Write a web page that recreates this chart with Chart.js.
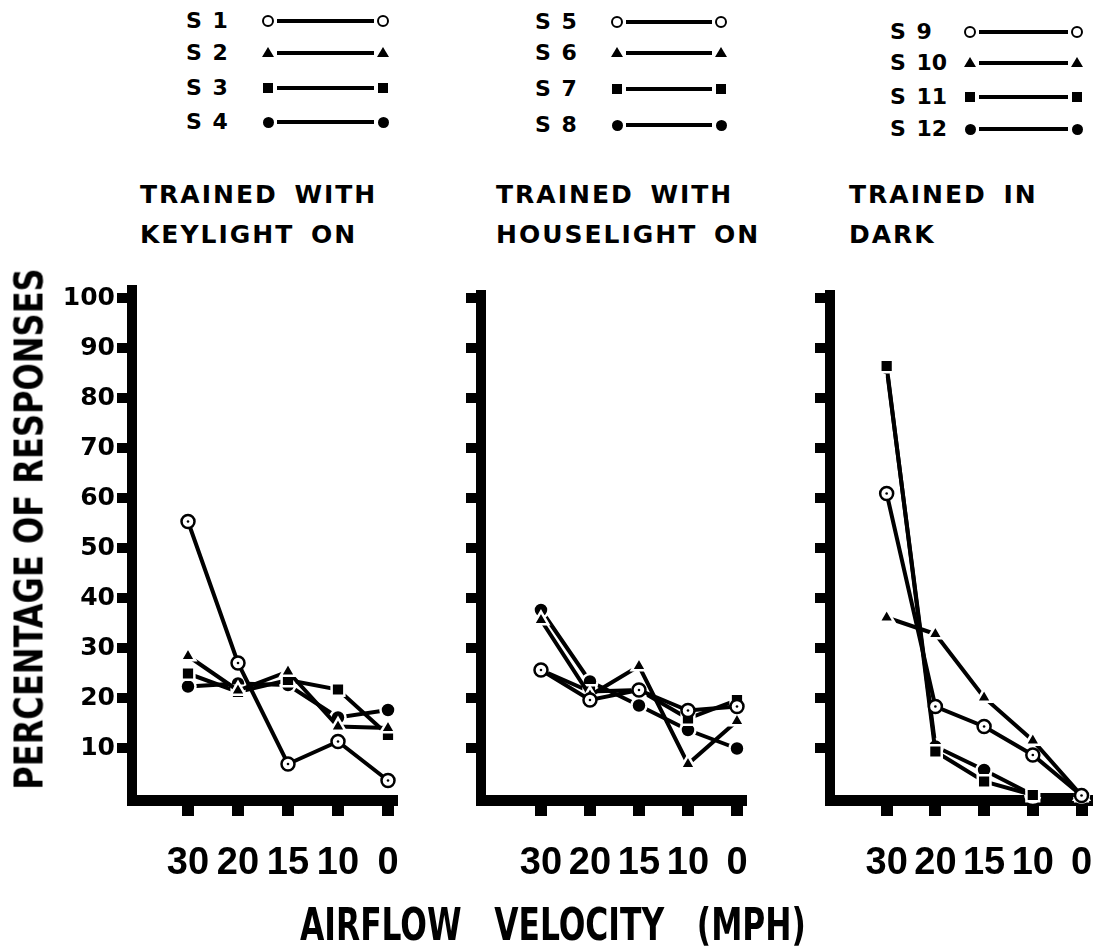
<!DOCTYPE html>
<html><head><meta charset="utf-8">
<script src="https://cdn.jsdelivr.net/npm/chart.js@4.4.0/dist/chart.umd.min.js"></script>
<style>
html,body{margin:0;padding:0;background:#fff;}
#root{position:relative;width:1098px;height:950px;overflow:hidden;background:#fff;color:#000;}
.cv{position:absolute;}
.t{position:absolute;white-space:pre;line-height:1;font-weight:bold;}
.title{font-family:'DejaVu Sans',sans-serif;font-size:25px;letter-spacing:2px;word-spacing:6px;transform:translateY(-50%);}
.leg{font-family:'DejaVu Sans',sans-serif;font-size:22px;word-spacing:3px;transform:translateY(-50%);}
.mk{position:absolute;box-sizing:border-box;}
.ln{position:absolute;height:4px;background:#000;}
</style></head><body><div id="root"></div>
<script>
// ---- data ----
const xLabels = ['30', '20', '15', '10', '0'];
const yTickValues = [10, 20, 30, 40, 50, 60, 70, 80, 90, 100];
const yTitle = 'PERCENTAGE OF RESPONSES';
const xTitle = 'AIRFLOW   VELOCITY   (MPH)';
const titleKeylight = ['TRAINED WITH', 'KEYLIGHT ON'];
const titleHouselight = ['TRAINED WITH', 'HOUSELIGHT ON'];
const titleDark = ['TRAINED IN', 'DARK'];
const namesKeylight = ['S 1', 'S 2', 'S 3', 'S 4'];
const namesHouselight = ['S 5', 'S 6', 'S 7', 'S 8'];
const namesDark = ['S 9', 'S 10', 'S 11', 'S 12'];
// keylight panel
const s1 = [55.3, 27.0, 6.8, 11.3, 3.5];
const s2 = [28.4, 21.5, 25.3, 14.3, 14.0];
const s3 = [24.9, 21.2, 23.6, 21.7, 12.6];
const s4 = [22.3, 22.9, 22.6, 16.1, 17.6];
// houselight panel
const s5 = [25.6, 19.6, 21.6, 17.5, 18.3];
const s6 = [35.6, 20.5, 26.4, 6.8, 15.4];
const s7 = [25.6, 21.3, 21.6, 15.9, 19.6];
const s8 = [37.6, 23.3, 18.5, 13.6, 9.9];
// dark panel
const s9 = [60.9, 18.3, 14.3, 8.6, 0.5];
const s10 = [36.1, 32.8, 20.1, 11.5, 0.5];
const s11 = [86.4, 9.3, 3.3, 0.6, 0.6];
const s12 = [86.0, 10.3, 5.6, 0.6, 0.6];

// ---- styles ----
const COND = "'DejaVu Sans Condensed','DejaVu Sans',sans-serif";
const LIB = "'Liberation Sans','Arial',sans-serif";
const WIDE = "'DejaVu Sans',sans-serif";
const markerStyles = [
  {pointStyle:'circle', pointRadius:6.5, pointBackgroundColor:'#fff', pointBorderColor:'#000', pointBorderWidth:2.5},
  {pointStyle:'triangle', pointRadius:8.5, pointBackgroundColor:'#000', pointBorderColor:'#fff', pointBorderWidth:2.5},
  {pointStyle:'rect', pointRadius:9, pointBackgroundColor:'#000', pointBorderColor:'#fff', pointBorderWidth:2.5},
  {pointStyle:'circle', pointRadius:7.5, pointBackgroundColor:'#000', pointBorderColor:'#fff', pointBorderWidth:2.5}
];

const root = document.getElementById('root');
function addText(txt, cls, css) {
  const d = document.createElement('div');
  d.className = 't ' + cls;
  d.textContent = txt;
  Object.assign(d.style, css);
  root.appendChild(d);
  return d;
}

// square off the outer corner where the two axis bars meet
const cornerPlugin = {
  id: 'corner',
  afterDraw(chart) {
    const {ctx, chartArea} = chart;
    ctx.save();
    ctx.fillStyle = '#000';
    ctx.fillRect(chartArea.left - 5, chartArea.bottom - 5, 10, 10.5);
    ctx.restore();
  }
};

function makePanel(cfg) {
  const c = document.createElement('canvas');
  c.className = 'cv';
  c.width = cfg.w; c.height = cfg.h;
  c.style.left = cfg.left + 'px'; c.style.top = cfg.top + 'px';
  c.style.width = cfg.w + 'px'; c.style.height = cfg.h + 'px';
  root.appendChild(c);
  const datasets = [];
  cfg.series.forEach((vals, i) => {
    const pts = vals.map((v, j) => ({x: j, y: v}));
    if (i === 0) {
      datasets.push({data: pts, showLine:false, pointStyle:'circle', pointRadius:1.3,
        pointBackgroundColor:'#000', pointBorderWidth:0, clip:false, order:-1});
    }
    datasets.push(Object.assign({data: pts, borderColor:'#000', borderWidth:4, tension:0,
      clip:false, fill:false, order: i}, markerStyles[i]));
  });
  new Chart(c, {
    type: 'line',
    data: {datasets},
    plugins: [cornerPlugin],
    options: {
      responsive:false, animation:false, devicePixelRatio:1,
      layout:{padding:{left:0, right:cfg.padRight, top:cfg.padTop, bottom:0}},
      plugins:{legend:{display:false}, tooltip:{enabled:false}},
      scales: {
        x: {type:'linear', position:'bottom', min:cfg.xmin, max:cfg.xmax,
          afterBuildTicks: s => { s.ticks = xLabels.map((_, i) => ({value:i})); },
          afterFit: s => { s.height = cfg.h - cfg.bottom; s.paddingLeft = 0; s.paddingRight = 0; },
          ticks:{autoSkip:false, maxRotation:0, minRotation:0, padding:25, color:'#000',
            font:{family:LIB, size:38, weight:'bold'}, callback: v => xLabels[v]},
          grid:{drawOnChartArea:false, drawTicks:true, tickLength:16, lineWidth:12, tickWidth:12, color:'#000', tickColor:'#000'},
          border:{display:true, width:11, color:'#000'}
        },
        y: {type:'linear', position:'left', min:-0.4, max:cfg.ymax,
          afterBuildTicks: s => { s.ticks = yTickValues.map(v => ({value:v})); },
          afterFit: s => { s.width = cfg.axisW; s.paddingTop = 0; s.paddingBottom = 0; },
          ticks:{display:cfg.showY, padding:2, color:'#000',
            font:{family:WIDE, size:25, weight:'bold'}, callback: v => String(v)},
          grid:{drawOnChartArea:false, drawTicks:true, tickLength:15, lineWidth:10, tickWidth:10, color:'#000', tickColor:'#000'},
          border:{display:true, width:10, color:'#000'}
        }
      }
    }
  });
}

makePanel({left:0, top:270, w:420, h:680, axisW:132, padRight:28, padTop:20, bottom:530,
  xmin:-1.12, xmax:4.08, ymax:101.6, showY:true, series:[s1, s2, s3, s4]});
makePanel({left:350, top:270, w:420, h:680, axisW:131, padRight:29, padTop:25, bottom:530,
  xmin:-1.224, xmax:4.082, ymax:100.6, showY:false, series:[s5, s6, s7, s8]});
makePanel({left:700, top:270, w:398, h:680, axisW:130, padRight:10, padTop:25, bottom:530,
  xmin:-1.163, xmax:4.102, ymax:100.6, showY:false, series:[s9, s10, s11, s12]});

// titles
[[titleKeylight, 140], [titleHouselight, 496], [titleDark, 849]].forEach(([lines, x]) => {
  addText(lines[0], 'title', {left: x + 'px', top: '194px'});
  addText(lines[1], 'title', {left: x + 'px', top: '234px'});
});

// legends
function legend(names, textX, m1, m2, rows) {
  names.forEach((n, i) => {
    const y = rows[i];
    addText(n, 'leg', {left: textX + 'px', top: y + 'px'});
    const ln = document.createElement('div');
    ln.className = 'ln';
    ln.style.left = (m1 + 9) + 'px'; ln.style.width = (m2 - m1 - 18) + 'px'; ln.style.top = (y - 2) + 'px';
    root.appendChild(ln);
    [m1, m2].forEach(mx => {
      const m = document.createElement('div');
      m.className = 'mk';
      if (i === 0) { Object.assign(m.style, {width:'12px', height:'12px', border:'2px solid #000', borderRadius:'50%', background:'#fff', left:(mx-6)+'px', top:(y-6)+'px'}); }
      if (i === 1) { Object.assign(m.style, {width:'0', height:'0', borderLeft:'6px solid transparent', borderRight:'6px solid transparent', borderBottom:'10px solid #000', left:(mx-6)+'px', top:(y-6)+'px'}); }
      if (i === 2) { Object.assign(m.style, {width:'10px', height:'10px', background:'#000', left:(mx-5)+'px', top:(y-5)+'px'}); }
      if (i === 3) { Object.assign(m.style, {width:'11px', height:'11px', background:'#000', borderRadius:'50%', left:(mx-5.5)+'px', top:(y-5.5)+'px'}); }
      root.appendChild(m);
    });
  });
}
legend(namesKeylight, 186, 268, 383, [21, 53, 88, 122]);
legend(namesHouselight, 535, 617, 721, [22, 53, 89, 125]);
legend(namesDark, 890, 970, 1077, [32, 63, 97, 129]);

// axis titles, condensed horizontally to the reference's length
function fitText(el, target, rotate) {
  const w = el.offsetWidth;
  const k = target / w;
  el.style.transform = 'translate(-50%,-50%)' + (rotate ? ' rotate(-90deg)' : '') + ' scaleX(' + k.toFixed(3) + ')';
}
const yt = addText(yTitle, '', {fontFamily:COND, fontSize:'39px', left:'29px', top:'529px'});
fitText(yt, 522, true);
const xt = addText(xTitle, '', {fontFamily:COND, fontSize:'44px', left:'553px', top:'925px'});
fitText(xt, 506, false);
</script></body></html>
